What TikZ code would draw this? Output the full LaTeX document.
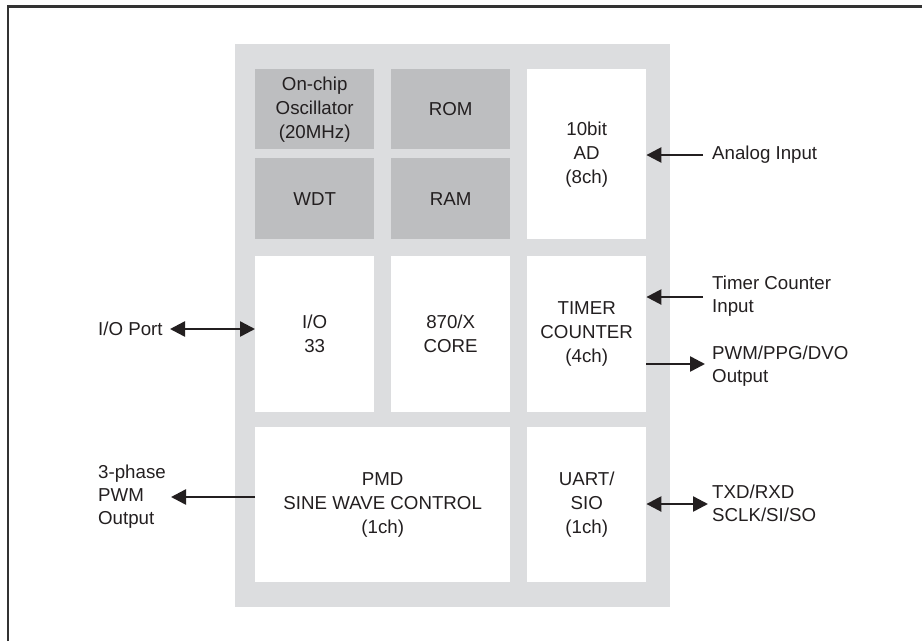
\documentclass[tikz,border=0pt]{standalone}
\usepackage{fontspec}
\setmainfont{Liberation Sans}
\usetikzlibrary{arrows.meta}
\definecolor{bggray}{HTML}{DCDDDF}
\definecolor{dkgray}{HTML}{BDBEC0}
\definecolor{ink}{HTML}{231F20}
\definecolor{framec}{HTML}{333333}
\tikzset{
  blk/.style={anchor=north west, inner sep=0pt, align=center, text=ink,
    font=\fontsize{18.7}{24}\selectfont},
  lightblk/.style={blk, fill=white},
  darkblk/.style={blk, fill=dkgray},
  lbl/.style={inner sep=0pt, align=left, text=ink,
    font=\fontsize{18.7}{23}\selectfont},
  tip/.tip={Triangle[length=15pt,width=15pt]},
  sig/.style={draw=ink, line width=2.5pt, -tip},
  bisig/.style={draw=ink, line width=2.5pt, tip-tip},
}
\begin{document}
\begin{tikzpicture}[x=1pt,y=-1pt]
\useasboundingbox (0,0) rectangle (922,641);
% frame
\draw[framec, line width=2.2pt] (8,641) -- (8,6.5) -- (922,6.5);
% chip background
\fill[bggray] (235,44) rectangle (670,607);
% blocks
\node[darkblk, minimum width=119pt, minimum height=80pt] (osc) at (255,69) {On-chip\\Oscillator\\(20MHz)};
\node[darkblk, minimum width=119pt, minimum height=80pt] (rom) at (391,69) {ROM};
\node[darkblk, minimum width=119pt, minimum height=81pt] (wdt) at (255,158) {WDT};
\node[darkblk, minimum width=119pt, minimum height=81pt] (ram) at (391,158) {RAM};
\node[lightblk, minimum width=119pt, minimum height=170pt] (ad) at (527,69) {10bit\\AD\\(8ch)};
\node[lightblk, minimum width=119pt, minimum height=156pt] (io) at (255,256) {I/O\\33};
\node[lightblk, minimum width=119pt, minimum height=156pt] (core) at (391,256) {870/X\\CORE};
\node[lightblk, minimum width=119pt, minimum height=156pt] (timer) at (527,256) {TIMER\\COUNTER\\(4ch)};
\node[lightblk, minimum width=255pt, minimum height=155pt] (pmd) at (255,427) {PMD\\SINE WAVE CONTROL\\(1ch)};
\node[lightblk, minimum width=119pt, minimum height=155pt] (uart) at (527,427) {UART/\\SIO\\(1ch)};
% labels
\node[lbl, anchor=west] (ain) at (712,155) {Analog Input};
\node[lbl, anchor=west] (tin) at (712,296) {Timer Counter\\Input};
\node[lbl, anchor=west] (pwmo) at (712,366) {PWM/PPG/DVO\\Output};
\node[lbl, anchor=west] (iop) at (98,329) {I/O Port};
\node[lbl, anchor=west] (tph) at (98,497) {3-phase\\PWM\\Output};
\node[lbl, anchor=west] (txd) at (712,503.5) {TXD/RXD\\SCLK/SI/SO};
% connector ends
\coordinate (ainS) at (703,155);
\coordinate (tinS) at (703,297);
\coordinate (pwmE) at (705,364);
\coordinate (iopE) at (170,329);
\coordinate (tphE) at (171,497);
\coordinate (txdE) at (708,504);
% connectors
\draw[sig] (ainS) -- (ad.east |- ainS);
\draw[sig] (tinS) -- (timer.east |- tinS);
\draw[sig] (timer.east |- pwmE) -- (pwmE);
\draw[bisig] (iopE) -- (io.west |- iopE);
\draw[sig] (pmd.west |- tphE) -- (tphE);
\draw[bisig] (uart.east |- txdE) -- (txdE);
\end{tikzpicture}
\end{document}
